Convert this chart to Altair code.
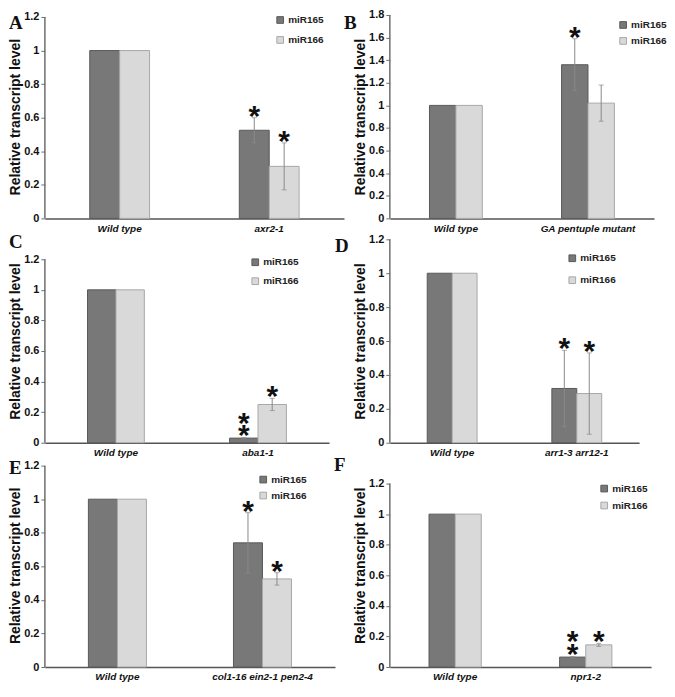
import altair as alt
import pandas as pd

# ---------------- data ----------------
letters = ["A", "B", "C", "D", "E", "F"]
wild_type = "Wild type"
mutants = ["axr2-1", "GA pentuple mutant", "aba1-1", "arr1-3 arr12-1",
           "col1-16 ein2-1 pen2-4", "npr1-2"]
series_names = ["miR165", "miR166"]

wt_mir165 = [1.0, 1.0, 1.0, 1.0, 1.0, 1.0]
wt_mir166 = [1.0, 1.0, 1.0, 1.0, 1.0, 1.0]
mut_mir165 = [0.525, 1.36, 0.03, 0.32, 0.74, 0.065]
mut_mir166 = [0.31, 1.02, 0.25, 0.29, 0.525, 0.145]
err_mir165 = [0.075, 0.23, 0.004, 0.225, 0.18, 0.004]
err_mir166 = [0.14, 0.16, 0.04, 0.24, 0.037, 0.01]
stars_mir165 = [1, 1, 2, 1, 1, 2]
stars_mir166 = [1, 0, 1, 1, 1, 1]
axis_top = [1.2, 1.8, 1.2, 1.2, 1.2, 1.2]

# ---------------- styling / layout ----------------
FONT = "Liberation Sans"
DARK, LIGHT = "#787878", "#d9d9d9"
DARK_EDGE, LIGHT_EDGE = "#595959", "#a8a8a8"
AXIS_COLOR = "#6e6e6e"
HEIGHT = 204

# width, extra px above top tick, letter (x, y), legend (x, y), legend row padding
layout = [
    dict(width=300, extra=2,  letter=(-36, 14), legend=(231, 0),  rowpad=8),
    dict(width=265, extra=0,  letter=(-46, 14), legend=(229, 5),  rowpad=4),
    dict(width=285, extra=20, letter=(-36, 9),  legend=(206, 18), rowpad=7),
    dict(width=250, extra=0,  letter=(-55, 13), legend=(178, 14), rowpad=10),
    dict(width=291, extra=2,  letter=(-36, 10), legend=(214, 11), rowpad=4),
    dict(width=262, extra=20, letter=(-56, 7),  legend=(210, 20), rowpad=5),
]


def panel(i):
    L = layout[i]
    top = axis_top[i]
    dmax = top * HEIGHT / (HEIGHT - L["extra"])
    ticks = [round(k * 0.2, 1) for k in range(int(round(top / 0.2)) + 1)]

    df = pd.DataFrame({
        "group": [wild_type, wild_type, mutants[i], mutants[i]],
        "series": [series_names[0], series_names[1], series_names[0], series_names[1]],
        "value": [wt_mir165[i], wt_mir166[i], mut_mir165[i], mut_mir166[i]],
        "err": [0.0, 0.0, err_mir165[i], err_mir166[i]],
        "stars": [0, 0, stars_mir165[i], stars_mir166[i]],
    })
    df["lo"] = df["value"] - df["err"]
    df["hi"] = df["value"] + df["err"]

    x = alt.X("group:N", sort=[wild_type, mutants[i]],
              scale=alt.Scale(paddingInner=0.6, paddingOuter=0.3),
              axis=alt.Axis(title=None, labelAngle=0, ticks=False,
                            labelFont=FONT, labelFontSize=10, labelFontWeight="bold",
                            labelFontStyle="italic", labelColor="#111",
                            labelPadding=5, domainColor="#555", domainWidth=1.5))
    xo = alt.XOffset("series:N", sort=series_names,
                     scale=alt.Scale(paddingInner=0, paddingOuter=0))
    yscale = alt.Scale(domain=[0, dmax], nice=False, zero=True)
    yaxis = alt.Axis(values=ticks, format="~g", domain=False, grid=False,
                     title="Relative transcript level", titleFont=FONT,
                     titleFontSize=14, titleFontWeight="bold", titleColor="#111",
                     titlePadding=1, labelFont=FONT, labelFontSize=11,
                     labelFontWeight="bold", labelColor="#111", labelPadding=2,
                     tickSize=4, tickColor=AXIS_COLOR, tickWidth=1)

    def Y(field):
        return alt.Y(field, type="quantitative", scale=yscale, axis=yaxis)

    base = alt.Chart(df)
    bars = base.mark_bar(strokeWidth=1).encode(
        x=x, xOffset=xo, y=Y("value"),
        color=alt.Color("series:N", sort=series_names,
                        scale=alt.Scale(domain=series_names, range=[DARK, LIGHT]),
                        legend=alt.Legend(title=None, orient="none",
                                          legendX=L["legend"][0], legendY=L["legend"][1],
                                          symbolType="square", symbolSize=45,
                                          symbolStrokeWidth=1, symbolStrokeColor="#888",
                                          labelFont=FONT, labelFontSize=10,
                                          labelFontWeight="bold", labelColor="#222",
                                          labelOffset=3, rowPadding=L["rowpad"],
                                          padding=0)),
        stroke=alt.Stroke("series:N", sort=series_names,
                          scale=alt.Scale(domain=series_names, range=[DARK_EDGE, LIGHT_EDGE]),
                          legend=None),
    )

    errbase = base.transform_filter(alt.datum.err > 0)
    err_rule = errbase.mark_rule(color="#8a8a8a", strokeWidth=1).encode(
        x=x, xOffset=xo, y=Y("lo"), y2="hi:Q")
    cap_lo = errbase.mark_tick(color="#8a8a8a", thickness=1, size=5).encode(
        x=x, xOffset=xo, y=Y("lo"))
    cap_hi = errbase.mark_tick(color="#8a8a8a", thickness=1, size=5).encode(
        x=x, xOffset=xo, y=Y("hi"))

    star_kw = dict(text="*", font=FONT, fontSize=30, fontWeight="bold",
                   color="#111", baseline="alphabetic", align="center")
    star1 = base.transform_filter(alt.datum.stars >= 1).mark_text(dy=8, **star_kw).encode(
        x=x, xOffset=xo, y=Y("hi"))
    star2 = base.transform_filter(alt.datum.stars >= 2).mark_text(dy=8 - 13, **star_kw).encode(
        x=x, xOffset=xo, y=Y("hi"))

    axis_line = alt.Chart(pd.DataFrame({"lo": [0.0], "hi": [top]})).mark_rule(
        color=AXIS_COLOR, strokeWidth=1.5).encode(
        x=alt.value(0), y=Y("lo"), y2="hi:Q")

    letter = alt.Chart(pd.DataFrame({"t": [letters[i]]})).mark_text(
        font="Liberation Serif", fontSize=19, fontWeight="bold", color="#111",
        align="left", baseline="alphabetic").encode(
        text="t:N", x=alt.value(L["letter"][0]), y=alt.value(L["letter"][1]))

    return alt.layer(bars, err_rule, cap_lo, cap_hi, star1, star2, axis_line, letter).properties(
        width=L["width"], height=HEIGHT)


chart = alt.concat(*[panel(i) for i in range(6)], columns=2,
                   spacing={"row": 21, "column": 46}, bounds="flush", align="each"
                   ).resolve_scale(x="independent", y="independent", color="independent",
                                   stroke="independent", xOffset="independent"
                   ).resolve_legend(color="independent", stroke="independent"
                   ).properties(padding=0).configure_view(stroke=None)

chart.save("out.html", embed_options={"renderer": "svg", "actions": False})
